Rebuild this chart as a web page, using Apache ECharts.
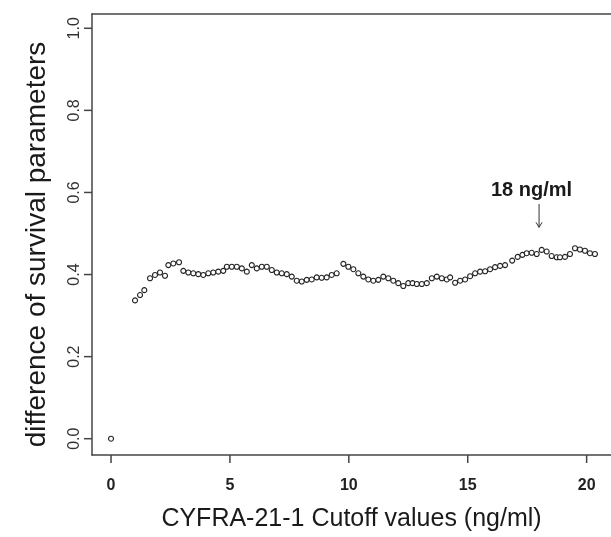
<!DOCTYPE html>
<html>
<head>
<meta charset="utf-8">
<script src="https://cdn.jsdelivr.net/npm/echarts@6/dist/echarts.min.js"></script>
<style>
html,body{margin:0;padding:0;background:#fff;}
#chart{width:611px;height:537px;}
</style>
</head>
<body>
<div id="chart"></div>
<script>
// Cutoff values (ng/ml) and difference of survival parameters
var cutoffs = [0.00,1.01,1.22,1.40,1.64,1.85,2.06,2.27,2.41,2.62,2.86,3.04,3.25,3.46,3.67,3.88,4.09,4.30,4.51,4.72,
  4.87,5.08,5.29,5.50,5.71,5.92,6.13,6.34,6.55,6.76,6.97,7.18,7.39,7.60,7.81,8.02,8.23,8.44,8.65,
  8.86,9.07,9.28,9.49,9.77,9.98,10.19,10.40,10.61,10.82,11.03,11.24,11.45,11.66,11.87,12.08,12.29,12.50,
  12.68,12.86,13.07,13.28,13.49,13.70,13.91,14.12,14.26,14.47,14.68,14.89,15.10,15.31,15.52,15.73,15.94,16.15,16.36,16.57,
  16.87,17.10,17.30,17.48,17.69,17.90,18.11,18.32,18.53,18.74,18.88,19.09,19.30,19.51,19.72,19.93,20.14,20.35];
var differences = [0.000,0.337,0.350,0.362,0.391,0.399,0.405,0.397,0.423,0.427,0.430,0.409,0.405,0.403,0.401,0.399,0.403,0.405,0.407,0.409,
  0.419,0.419,0.419,0.415,0.407,0.423,0.415,0.419,0.419,0.411,0.405,0.403,0.401,0.395,0.385,0.383,0.387,0.388,0.393,
  0.392,0.393,0.399,0.403,0.426,0.419,0.413,0.403,0.395,0.388,0.385,0.387,0.395,0.391,0.385,0.379,0.372,0.379,
  0.379,0.377,0.377,0.379,0.391,0.395,0.391,0.388,0.393,0.380,0.385,0.388,0.396,0.403,0.407,0.408,0.413,0.418,0.421,0.423,
  0.434,0.443,0.448,0.452,0.453,0.450,0.460,0.456,0.445,0.442,0.442,0.443,0.450,0.464,0.461,0.458,0.452,0.450];
var xTicks = [0, 5, 10, 15, 20];
var yTicks = [0, 0.2, 0.4, 0.6, 0.8, 1.0];
var annotationText = '18 ng/ml';
var annotationX = 18;
var arrowFromY = 0.572;
var arrowToY = 0.515;
var annotationTextY = 0.606;

var points = cutoffs.map(function (c, i) { return [c, differences[i]]; });

var X_MIN = -0.8, X_MAX = 21.025, Y_MIN = -0.0397, Y_MAX = 1.0348;
var chart = echarts.init(document.getElementById('chart'), null, {renderer: 'canvas'});
var FONT = 'Liberation Sans, Arial, Helvetica, sans-serif';
var lineStyle = {color: '#444', width: 1.5};
chart.setOption({
  animation: false,
  backgroundColor: '#fff',
  grid: {left: 92, top: 14, width: 519, height: 441, show: false},
  xAxis: [{
    type: 'value', min: X_MIN, max: X_MAX, position: 'bottom',
    name: 'CYFRA-21-1 Cutoff values (ng/ml)', nameLocation: 'middle', nameGap: 52,
    nameTextStyle: {fontFamily: FONT, fontSize: 25, color: '#1a1a1a'},
    axisLine: {show: true, onZero: false, lineStyle: lineStyle},
    splitLine: {show: false},
    axisTick: {show: false},
    axisLabel: {show: true, customValues: xTicks, margin: 23, fontFamily: FONT, fontSize: 16, fontWeight: 'bold', color: '#222'}
  }, {
    type: 'value', min: X_MIN, max: X_MAX, position: 'top',
    axisLine: {show: true, onZero: false, lineStyle: lineStyle},
    splitLine: {show: false}, axisTick: {show: false}, axisLabel: {show: false}
  }],
  yAxis: [{
    type: 'value', min: Y_MIN, max: Y_MAX, position: 'left',
    name: 'difference of survival parameters', nameLocation: 'middle', nameGap: 41,
    nameTextStyle: {fontFamily: FONT, fontSize: 28, color: '#1a1a1a', padding: [0, 20, 0, 0]},
    axisLine: {show: true, onZero: false, lineStyle: lineStyle},
    splitLine: {show: false},
    axisTick: {show: false},
    axisLabel: {show: true, customValues: yTicks, rotate: 90, margin: 9, fontFamily: FONT, fontSize: 16, color: '#333',
      formatter: function (v) { return v.toFixed(1); }}
  }],
  series: [{
    type: 'scatter',
    xAxisIndex: 0, yAxisIndex: 0,
    clip: false,
    data: points,
    symbol: 'circle',
    symbolSize: 5,
    itemStyle: {color: '#fff', borderColor: '#222', borderWidth: 1.1, opacity: 1}
  }]
});

// tick marks, placed through the library's scales
var g = [];
var TICK = 8;
var bottomY = chart.convertToPixel({yAxisIndex: 0}, Y_MIN);
var leftX = chart.convertToPixel({xAxisIndex: 0}, X_MIN);
xTicks.forEach(function (v) {
  var px = chart.convertToPixel({xAxisIndex: 0}, v);
  g.push({type: 'line', z: 100, shape: {x1: px, y1: bottomY, x2: px, y2: bottomY + TICK}, style: {stroke: '#444', lineWidth: 1.5}});
});
yTicks.forEach(function (v) {
  var py = chart.convertToPixel({yAxisIndex: 0}, v);
  g.push({type: 'line', z: 100, shape: {x1: leftX - TICK, y1: py, x2: leftX, y2: py}, style: {stroke: '#444', lineWidth: 1.5}});
});
var tp = chart.convertToPixel({xAxisIndex: 0, yAxisIndex: 0}, [annotationX - 0.32, annotationTextY]);
var a1 = chart.convertToPixel({xAxisIndex: 0, yAxisIndex: 0}, [annotationX, arrowFromY]);
var a2 = chart.convertToPixel({xAxisIndex: 0, yAxisIndex: 0}, [annotationX, arrowToY]);
g.push({type: 'text', z: 100, x: tp[0], y: tp[1], style: {text: annotationText, font: 'bold 20px ' + FONT, fill: '#1a1a1a', align: 'center', verticalAlign: 'middle'}});
g.push({type: 'line', z: 100, shape: {x1: a1[0], y1: a1[1], x2: a2[0], y2: a2[1]}, style: {stroke: '#333', lineWidth: 1}});
g.push({type: 'polyline', z: 100, shape: {points: [[a2[0] - 3, a2[1] - 5], [a2[0], a2[1]], [a2[0] + 3, a2[1] - 5]]}, style: {stroke: '#333', lineWidth: 1, fill: null}});
chart.setOption({graphic: g});
</script>
</body>
</html>
